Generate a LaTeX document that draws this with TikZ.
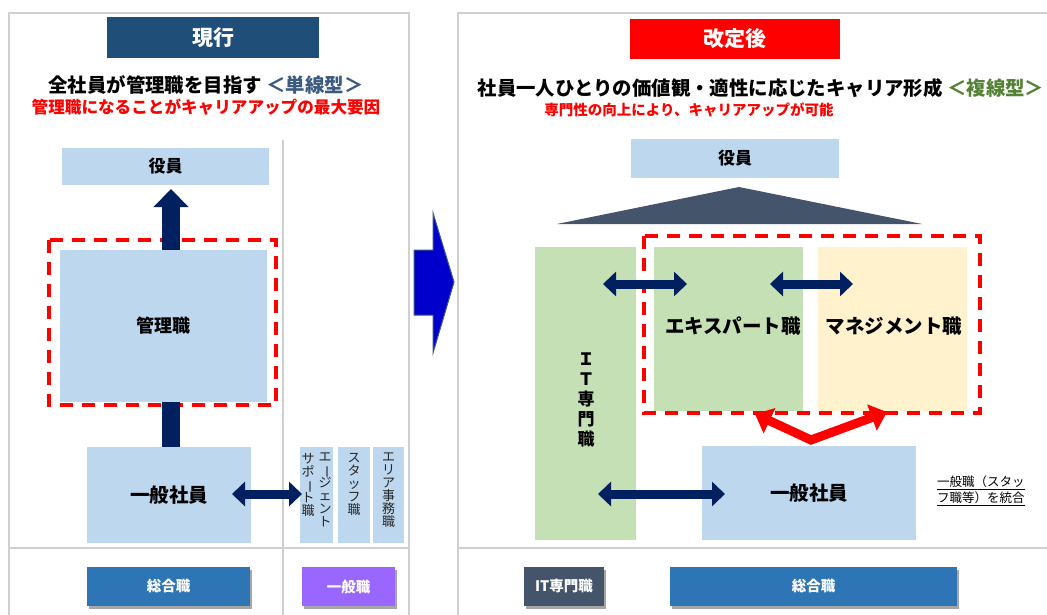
\documentclass[tikz,border=0pt]{standalone}
\usepackage{fontspec}
\setmainfont{Noto Sans CJK JP}
\usetikzlibrary{arrows.meta,shadows}
\definecolor{lblue}{HTML}{BDD7EE}
\definecolor{navy}{HTML}{002060}
\definecolor{titleblue}{HTML}{1F4E79}
\definecolor{lgreen}{HTML}{C5E0B4}
\definecolor{cream}{HTML}{FFF2CC}
\definecolor{slate}{HTML}{44546A}
\definecolor{btnblue}{HTML}{2E75B6}
\definecolor{btnpurple}{HTML}{9966FF}
\definecolor{headblue}{HTML}{3A5A80}
\definecolor{headgreen}{HTML}{548235}
\definecolor{framegray}{HTML}{D0D0D0}
\definecolor{bigarrow}{HTML}{0000CC}
\newcommand{\fs}[1]{\fontsize{#1}{#1}\selectfont}
\newcommand{\vbar}{\rotatebox[origin=c]{-90}{ー}}
\newcommand{\tatefont}{\fontsize{13}{13}\selectfont\lineskiplimit=-20pt\relax\lineskip=0pt\relax}
\tikzset{
  box/.style={fill=#1, inner sep=0pt, draw=none},
  lbox/.style={box=lblue},
  titlebox/.style={fill=#1, text=white, inner sep=0pt, font=\fs{21}\bfseries},
  btn/.style={fill=#1, text=white, inner sep=0pt, font=\fs{14.5}\bfseries,
    drop shadow={shadow xshift=2pt, shadow yshift=-3pt, opacity=0.35, fill=black}},
  reddash/.style={draw=red, line width=3.4pt, dash pattern=on 13pt off 9pt},
  frame/.style={draw=framegray, line width=1.6pt},
  dblarrow/.style={draw=navy, line width=9pt,
    {Triangle[width=24pt,length=13pt]}-{Triangle[width=24pt,length=13pt]}},
  tate/.style={align=center, inner sep=0pt, anchor=north, font=\tatefont, text=black!85},
}
\begin{document}
\begin{tikzpicture}[x=1pt,y=-1pt]
\useasboundingbox (0,0) rectangle (1047,615);
\fill[white] (0,0) rectangle (1047,615);
% frames
\draw[frame] (9,615) -- (9,13) -- (409,13) -- (409,615);
\draw[frame] (458,615) -- (458,13) -- (1047,13);
\draw[frame] (9,548) -- (409,548);
\draw[frame] (458,548) -- (1047,548);
\draw[frame] (283,140) -- (283,615);

% ===== left panel =====
\node[titlebox=titleblue, minimum width=212pt, minimum height=41pt] (titleL) at (213,37.5) {現行};
\node[font=\fs{19.4}\bfseries] (headL) at (206,85) {全社員が管理職を目指す \textcolor{headblue}{＜単線型＞}};
\node[font=\fs{16.6}\bfseries, text=red] (subL) at (206,107) {管理職になることがキャリアアップの最大要因};

\node[lbox, minimum width=207pt, minimum height=37pt, font=\fs{17}\bfseries] (yakuinL) at (165.5,166.5) {役員};
\node[lbox, minimum width=207pt, minimum height=152pt, font=\fs{18}\bfseries] (kanri) at (163.5,326) {管理職};
\draw[reddash] (49,240) rectangle (276,405);
\node[lbox, minimum width=164pt, minimum height=96pt, font=\fs{19.5}\bfseries] (ippanL) at (169,495) {一般社員};

% arrows left
\coordinate (upS) at (171,250);
\coordinate (upT) at (171,189);
\draw[navy, line width=18pt, -{Triangle[width=34pt,length=18pt]}] (upS) -- (upT);
\draw[navy, line width=18pt] (171,402) -- (171,447);

\node[lbox, minimum width=33pt, minimum height=96pt] (agent) at (316.5,495) {};
\node[lbox, minimum width=32pt, minimum height=96pt] (staff) at (354,495) {};
\node[lbox, minimum width=31pt, minimum height=96pt] (area) at (388.5,495) {};
\node[tate] (agentA) at (325,453) {エ\\\vbar\\ジ\\ェ\\ン\\ト};
\node[tate] (agentB) at (308,453) {サ\\ポ\\\vbar\\ト\\職};
\node[tate] (staffT) at (354,453) {ス\\タ\\ッ\\フ\\職};
\node[tate] (areaT) at (388.5,453) {エ\\リ\\ア\\事\\務\\職};

\coordinate (aL1) at (232,494);
\coordinate (aL2) at (302,494);
\draw[dblarrow] (aL1) -- (aL2);

\node[btn=btnblue, minimum width=163pt, minimum height=39pt] (sougouL) at (168.5,586.5) {総合職};
\node[btn=btnpurple, minimum width=93pt, minimum height=39pt] (ippanshoku) at (348.5,586.5) {一般職};

% ===== big middle arrow =====
\filldraw[fill=bigarrow, draw=headblue, line width=1pt]
  (414,250) -- (433,250) -- (433,213) -- (454,282) -- (433,353) -- (433,315) -- (414,315) -- cycle;

% ===== right panel =====
\node[titlebox=red, minimum width=210pt, minimum height=40pt] (titleR) at (735,39) {改定後};
\node[font=\fs{19.4}\bfseries] (headR) at (761,88) {社員一人ひとりの価値観・適性に応じたキャリア形成 \textcolor{headgreen}{＜複線型＞}};
\node[font=\fs{14.5}\bfseries, text=red] (subR) at (689,110) {専門性の向上により、キャリアアップが可能};

\node[lbox, minimum width=208pt, minimum height=39pt, font=\fs{17}\bfseries] (yakuinR) at (735,158.5) {役員};
\fill[slate] (739,187) -- (922,224) -- (557,224) -- cycle;

\node[box=lgreen, minimum width=101pt, minimum height=293pt] (itbox) at (585.5,393.5) {};
\node[align=center, inner sep=0pt, font=\fs{17}\bfseries] (itT) at (586,400) {Ｉ\\[3pt]Ｔ\\[3pt]専\\[3pt]門\\[3pt]職};

\node[box=lgreen, minimum width=149pt, minimum height=164pt] (expert) at (728.5,329) {};
\node[font=\fs{19.5}\bfseries] (expertT) at (733,326) {エキスパート職};
\node[box=cream, minimum width=149pt, minimum height=164pt] (manage) at (892.5,329) {};
\node[font=\fs{19.5}\bfseries] (manageT) at (894,326) {マネジメント職};
\draw[reddash] (644,236) rectangle (980,413);

\node[lbox, minimum width=214pt, minimum height=94pt, font=\fs{19.5}\bfseries] (ippanR) at (809,493) {一般社員};

\coordinate (r1a) at (603,284);
\coordinate (r1b) at (687,284);
\draw[dblarrow] (r1a) -- (r1b);
\coordinate (r2a) at (770,284);
\coordinate (r2b) at (853,284);
\draw[dblarrow] (r2a) -- (r2b);
\coordinate (r3a) at (598,494);
\coordinate (r3b) at (725,494);
\draw[dblarrow] (r3a) -- (r3b);

\coordinate (vA) at (755,414);
\coordinate (vM) at (811,440);
\coordinate (vB) at (887,412);
\draw[red, line width=9pt, line join=miter,
  {Triangle[width=27pt,length=16pt]}-{Triangle[width=27pt,length=16pt]}] (vA) -- (vM) -- (vB);

\node[align=left, anchor=west, inner sep=0pt, font=\fs{12.5}] (note) at (937,491)
  {\underline{一般職（スタッ}\\[1pt]\underline{フ職等）を統合}};

\node[btn=slate, minimum width=80pt, minimum height=39pt] (itbtn) at (564,586.5) {IT専門職};
\node[btn=btnblue, minimum width=287pt, minimum height=39pt] (sougouR) at (813.5,586.5) {総合職};
\end{tikzpicture}
\end{document}
